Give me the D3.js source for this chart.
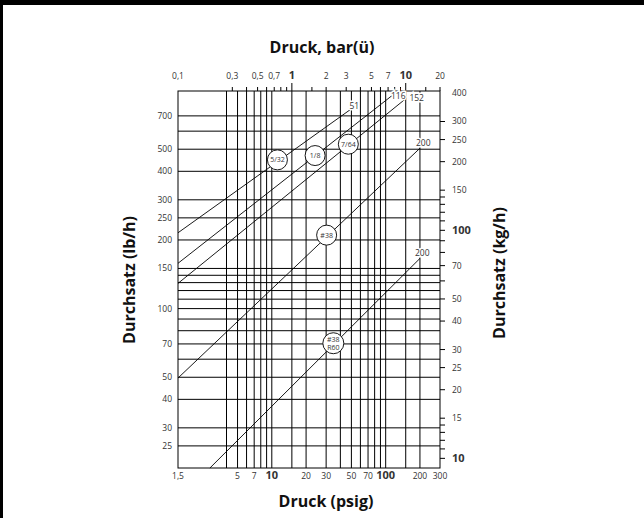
<!DOCTYPE html>
<html>
<head>
<meta charset="utf-8">
<script src="https://cdn.jsdelivr.net/npm/d3@7"></script>
<style>
  body { margin: 0; background: #fff; }
  svg  { display: block; font-family: "Open Sans", "Lato", sans-serif; }
</style>
</head>
<body>
<svg width="644" height="518"></svg>
<script>
// ---- data ----
var psigGrid   = [4,5,6,7,8,9,10,15,20,30,40,50,60,70,80,90,100,150,200];
var psigLabels = [1.5,5,7,10,20,30,50,70,100,200,300];
var barTicks   = [0.3,0.4,0.5,0.6,0.7,0.8,0.9,1,1.5,2,3,4,5,6,7,8,9,10,15,20];
var barLabels  = [0.1,0.3,0.5,0.7,1,2,3,5,7,10,20];
var lbGrid     = [25,30,40,50,60,70,80,90,100,110,120,130,140,150,200,250,300,400,500,600,700];
var lbLabels   = [25,30,40,50,70,100,150,200,250,300,400,500,700];
var kgTicks    = [10,11,12,13,14,15,20,25,30,40,50,60,70,80,90,100,110,120,130,140,150,200,250,300];
var kgLabels   = [10,15,20,25,30,40,50,70,100,150,200,250,300,400];
var boldValues = [1,10,100];

// orifice lines: start / end as [psig, lb/h]
var orifices   = ["5/32","1/8","7/64","#38","#38 R60"];
var lineStart  = [[1.5,215],[1.5,158],[1.5,129],[1.5,49.6],[2.86,20]];
var lineEnd    = [[51,757],[116,866],[152,837],[200,505],[200,166]];
var endLabels  = ["51","116","152","200","200"];
var markerAt   = [[11.2,449],[24,469],[47,526],[30.3,210],[34.7,70.5]];

var LB_PER_KG = 2.2046;

// ---- layout ----
var L = 178, R = 440, T = 91, B = 468;
var svg = d3.select("svg");

var x    = d3.scaleLog().domain([1.5, 300]).range([L, R]);
var xBar = d3.scaleLog().domain([0.1, 20]).range([L, R]);
var y    = d3.scaleLog().domain([20, 900]).range([B, T]);
var yKg  = d3.scaleLog().domain([20 / LB_PER_KG, 900 / LB_PER_KG]).range([B, T]);

var fmt = function(v){ return String(v).replace(".", ","); };
var isBold = function(v){ return boldValues.indexOf(v) >= 0; };

// frame bits from the cropped page
svg.append("rect").attr("x",0).attr("y",0).attr("width",644).attr("height",5).style("fill","#000");
svg.append("rect").attr("x",0).attr("y",0).attr("width",3).attr("height",518).style("fill","#000");

// grid
var grid = svg.append("g").style("stroke","#000").style("stroke-width",1);
grid.selectAll(".vg").data(psigGrid).enter().append("line")
    .attr("x1", function(d){ return x(d); }).attr("x2", function(d){ return x(d); })
    .attr("y1", T).attr("y2", B);
grid.selectAll(".hg").data(lbGrid).enter().append("line")
    .attr("x1", L).attr("x2", R)
    .attr("y1", function(d){ return y(d); }).attr("y2", function(d){ return y(d); });
grid.append("rect")
    .attr("x", L).attr("y", T).attr("width", R - L).attr("height", B - T)
    .style("fill","none");

// top axis (bar) ticks
svg.append("g").selectAll("line").data(barTicks).enter().append("line")
    .attr("x1", function(d){ return xBar(d); }).attr("x2", function(d){ return xBar(d); })
    .attr("y1", T)
    .attr("y2", function(d){ return isBold(d) ? T - 8 : T - 4; })
    .style("stroke","#000").style("stroke-width",1);

// right axis (kg/h) ticks
svg.append("g").selectAll("line").data(kgTicks).enter().append("line")
    .attr("x1", R).attr("x2", R + 5)
    .attr("y1", function(d){ return yKg(d); }).attr("y2", function(d){ return yKg(d); })
    .style("stroke","#000").style("stroke-width",1);

// tick labels (left axis has no bold decades)
var tickText = function(sel, useBold){
  sel.style("fill","#333")
     .style("font-size", function(d){ return useBold && isBold(d) ? "11px" : "8.5px"; })
     .style("font-weight", function(d){ return useBold && isBold(d) ? "bold" : "normal"; })
     .text(fmt);
};
svg.append("g").selectAll("text").data(barLabels).enter().append("text")
    .attr("x", function(d){ return xBar(d); }).attr("y", 79)
    .attr("text-anchor","middle").call(tickText, true);
svg.append("g").selectAll("text").data(psigLabels).enter().append("text")
    .attr("x", function(d){ return x(d); }).attr("y", 479)
    .attr("text-anchor","middle").call(tickText, true);
svg.append("g").selectAll("text").data(lbLabels).enter().append("text")
    .attr("x", 172).attr("y", function(d){ return y(d); }).attr("dy","0.35em")
    .attr("text-anchor","end").call(tickText, false);
svg.append("g").selectAll("text").data(kgLabels).enter().append("text")
    .attr("x", 452).attr("y", function(d){ return yKg(d); }).attr("dy","0.35em")
    .attr("text-anchor","start").call(tickText, true);

// orifice lines
var lines = orifices.map(function(name, i){
  return { name: name, s: lineStart[i], e: lineEnd[i], lab: endLabels[i], m: markerAt[i] };
});
svg.append("g").selectAll("line").data(lines).enter().append("line")
    .attr("x1", function(d){ return x(d.s[0]); }).attr("y1", function(d){ return y(d.s[1]); })
    .attr("x2", function(d){ return x(d.e[0]); }).attr("y2", function(d){ return y(d.e[1]); })
    .style("stroke","#000").style("stroke-width",0.9);

// end labels (max pressure), white backing over the grid
var labOff = [[-3,1],[-2,4],[3,3],[-4,-2],[-5,-2]];
var endG = svg.append("g").selectAll("g").data(lines).enter().append("g")
    .attr("transform", function(d, i){
      return "translate(" + (x(d.e[0]) + labOff[i][0]) + "," + (y(d.e[1]) + labOff[i][1]) + ")";
    });
endG.append("text")
    .text(function(d){ return d.lab; })
    .style("font-size","8.5px").style("fill","#333")
    .style("stroke","#fff").style("stroke-width",3).style("paint-order","stroke");

// circle markers
var mk = svg.append("g").selectAll("g").data(lines).enter().append("g")
    .attr("transform", function(d){ return "translate(" + x(d.m[0]) + "," + y(d.m[1]) + ")"; });
mk.append("circle")
    .attr("r", function(d){ return d.name.indexOf(" ") > 0 ? 10.5 : 10; })
    .style("fill","#fff").style("stroke","#000").style("stroke-width",0.9);
mk.each(function(d){
  var parts = d.name.split(" ");
  var t = d3.select(this).append("text").attr("text-anchor","middle")
      .style("font-size","7px").style("fill","#333");
  parts.forEach(function(p, k){
    t.append("tspan").attr("x",0)
      .attr("y", (k - (parts.length - 1) / 2) * 8 + 2.5)
      .text(p);
  });
});

// axis titles
var title = function(sel){
  sel.style("font-size","16px").style("font-weight","bold").style("fill","#111")
     .attr("text-anchor","middle");
};
svg.append("text").attr("x", 322).attr("y", 53).text("Druck, bar(ü)").call(title);
svg.append("text").attr("x", 326).attr("y", 507).text("Druck (psig)").call(title);
svg.append("text").attr("transform","translate(135,280) rotate(-90)").text("Durchsatz (lb/h)").call(title);
svg.append("text").attr("transform","translate(505,273) rotate(-90)").text("Durchsatz (kg/h)").call(title);
</script>
</body>
</html>
